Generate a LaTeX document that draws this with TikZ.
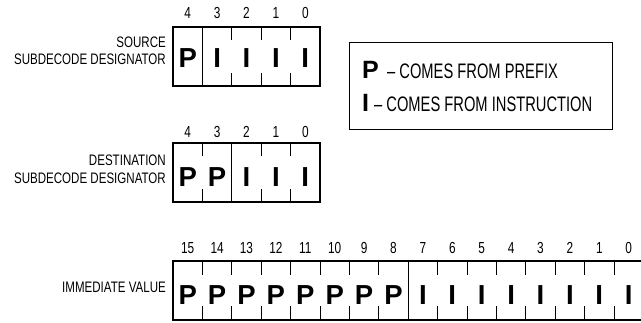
\documentclass[tikz,border=0pt]{standalone}
\usepackage{fontspec}
\setmainfont{Liberation Sans}
\newfontfamily\lblf[FakeStretch=0.76]{Liberation Sans}
\newfontfamily\legf[FakeStretch=0.70]{Liberation Sans}
\newfontfamily\digf[FakeStretch=0.74]{Liberation Sans}
\tikzset{
  lbl/.style={font=\lblf\fontsize{15.2}{17}\selectfont, inner sep=0pt, anchor=base east},
  legtxt/.style={font=\legf\fontsize{21}{22}\selectfont, inner sep=0pt, anchor=base west},
  legbig/.style={font=\bfseries\fontsize{25}{25}\selectfont, inner sep=0pt, anchor=base west},
  bitnum/.style={font=\digf\fontsize{16}{16}\selectfont, inner sep=0pt, anchor=base},
  bitval/.style={font=\bfseries\fontsize{27.5}{28}\selectfont, inner sep=0pt, anchor=base},
  regbox/.style={draw, line width=1.3pt},
  bittick/.style={line width=0.8pt},
  fieldsplit/.style={line width=1.1pt},
}
\begin{document}
\begin{tikzpicture}[x=1pt,y=-1pt]
\useasboundingbox (0,0) rectangle (641,322);
\def\cw{29.4}
% ---------- source register ----------
\foreach \i/\c/\n in {0/P/4,1/I/3,2/I/2,3/I/1,4/I/0}{
  \node[bitval] (s\i) at ({173+(\i+0.5)*\cw},67.5) {\c};
  \node[bitnum] (sn\i) at ({173+(\i+0.5)*\cw},18.5) {\n};
}
\foreach \j in {2,3,4}{
  \draw[bittick] ({173+\j*\cw},27) -- ++(0,13);
  \draw[bittick] ({173+\j*\cw},86) -- ++(0,-13);
}
\draw[fieldsplit] ({173+1*\cw},27) -- ({173+1*\cw},86);
\draw[regbox] (173,27) rectangle ({173+5*\cw},86);
\node[lbl] (srcl1) at (166,47) {SOURCE};
\node[lbl] (srcl2) at (166,64) {SUBDECODE DESIGNATOR};
% ---------- destination register ----------
\foreach \i/\c/\n in {0/P/4,1/P/3,2/I/2,3/I/1,4/I/0}{
  \node[bitval] (d\i) at ({173+(\i+0.5)*\cw},186) {\c};
  \node[bitnum] (dn\i) at ({173+(\i+0.5)*\cw},137) {\n};
}
\foreach \j in {1,3,4}{
  \draw[bittick] ({173+\j*\cw},143) -- ++(0,13);
  \draw[bittick] ({173+\j*\cw},202) -- ++(0,-13);
}
\draw[fieldsplit] ({173+2*\cw},143) -- ({173+2*\cw},202);
\draw[regbox] (173,143) rectangle ({173+5*\cw},202);
\node[lbl] (dstl1) at (166,165) {DESTINATION};
\node[lbl] (dstl2) at (166,183) {SUBDECODE DESIGNATOR};
% ---------- immediate value ----------
\foreach \i/\n in {0/15,1/14,2/13,3/12,4/11,5/10,6/9,7/8}{
  \node[bitval] (ip\i) at ({173+(\i+0.5)*\cw},304) {P};
  \node[bitnum] (ipn\i) at ({173+(\i+0.5)*\cw},253) {\n};
}
\foreach \i/\n in {8/7,9/6,10/5,11/4,12/3,13/2,14/1,15/0}{
  \node[bitval] (ii\i) at ({173+(\i+0.5)*\cw},304) {I};
  \node[bitnum] (iin\i) at ({173+(\i+0.5)*\cw},253) {\n};
}
\foreach \j in {1,...,7,9,10,...,15}{
  \draw[bittick] ({173+\j*\cw},261) -- ++(0,14);
  \draw[bittick] ({173+\j*\cw},320) -- ++(0,-14);
}
\draw[fieldsplit] ({173+8*\cw},261) -- ({173+8*\cw},320);
\draw[regbox] (173,261) rectangle ({173+16*\cw},320);
\node[lbl] (imml) at (166,292) {IMMEDIATE VALUE};
% ---------- legend ----------
\node[draw, line width=1.2pt, minimum width=263pt, minimum height=87pt, inner sep=0pt, anchor=north west] (legend) at (349,42) {};
\node[legbig] (lgp) at (362,78) {P};
\node[legtxt] (lgpt) at (387,78) {– COMES FROM PREFIX};
\node[legbig] (lgi) at (362,111) {I};
\node[legtxt] (lgit) at (374,111) {– COMES FROM INSTRUCTION};
\end{tikzpicture}
\end{document}
